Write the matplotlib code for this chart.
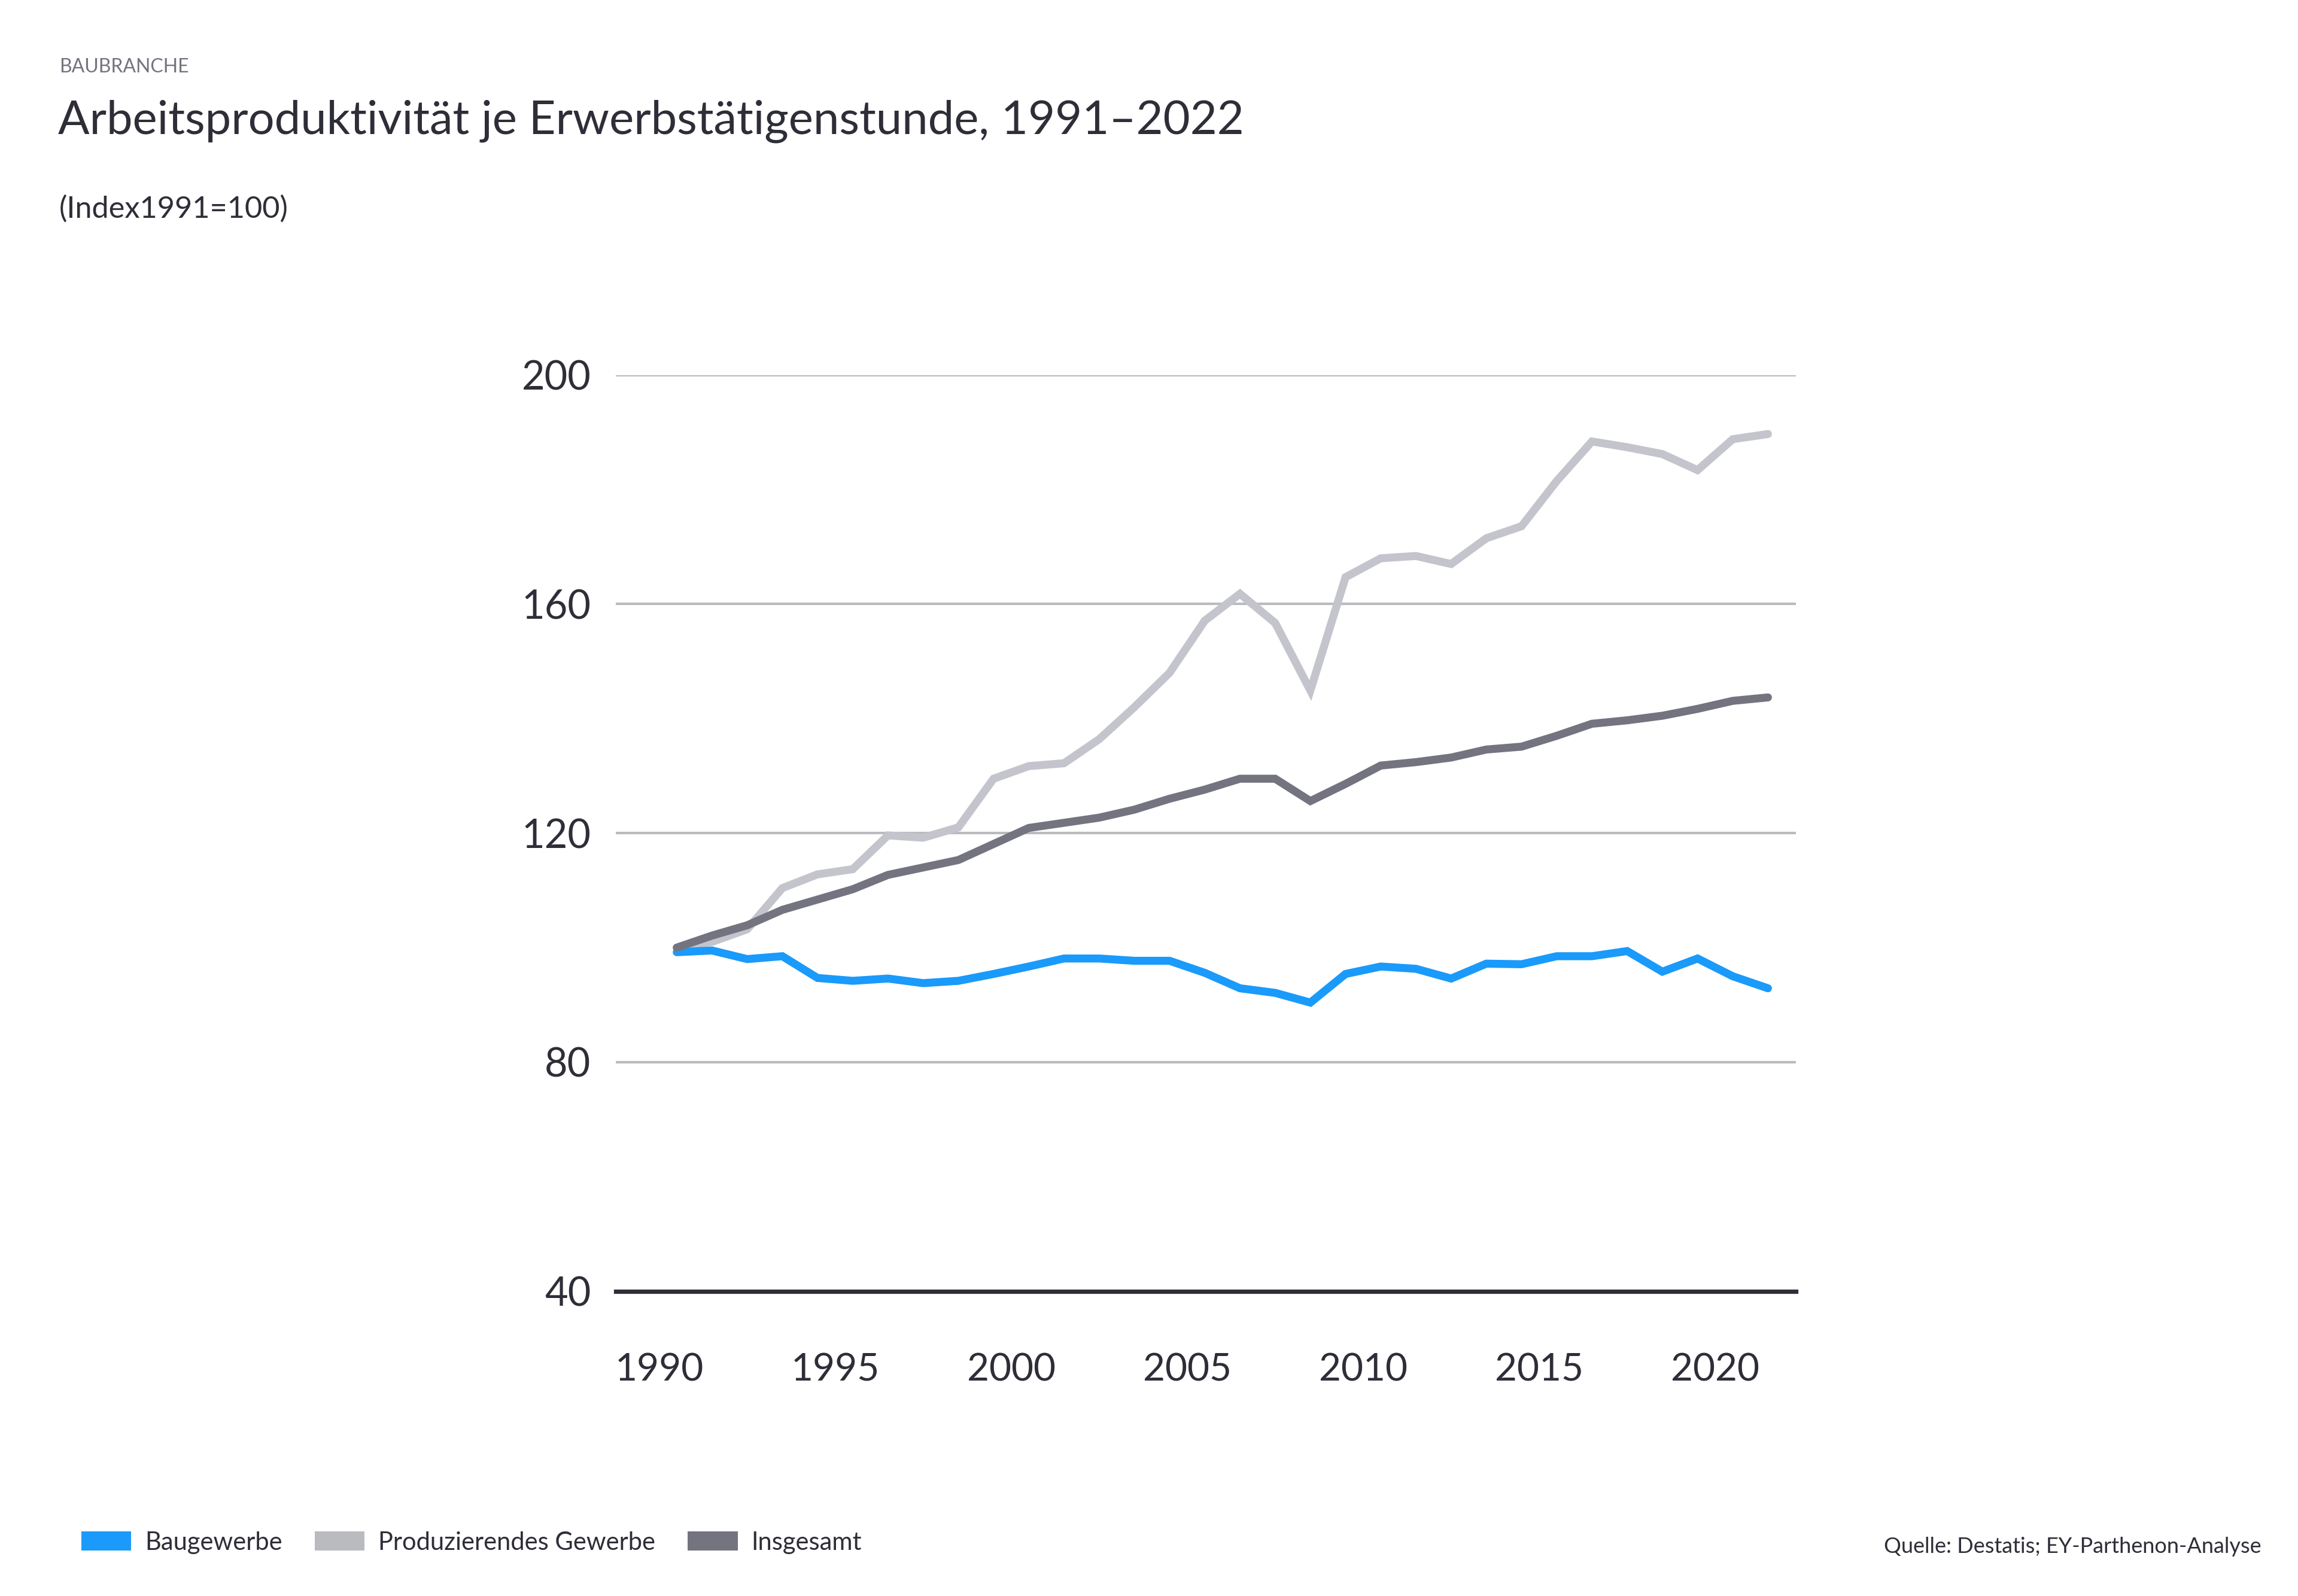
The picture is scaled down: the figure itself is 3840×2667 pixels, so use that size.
import matplotlib
matplotlib.use("Agg")
import matplotlib.pyplot as plt
from matplotlib.patches import Patch
import numpy as np

# Arbeitsproduktivitaet je Erwerbstaetigenstunde, Index 1991=100
years = list(range(1991, 2023))
baugewerbe = [99.2, 99.5, 98.0, 98.5, 94.7, 94.2, 94.6, 93.8, 94.2, 95.4,
              96.7, 98.1, 98.1, 97.7, 97.7, 95.6, 92.9, 92.1, 90.4, 95.4,
              96.7, 96.3, 94.6, 97.2, 97.1, 98.5, 98.5, 99.4, 95.8, 98.1,
              95.0, 92.9]
produzierendes = [100.0, 101.0, 103.2, 110.4, 112.8, 113.7, 119.6, 119.2, 121.0, 129.5,
                  131.7, 132.2, 136.4, 142.0, 148.0, 157.1, 161.8, 156.7, 144.9, 164.7,
                  168.0, 168.4, 167.0, 171.5, 173.6, 181.5, 188.4, 187.4, 186.2, 183.4,
                  188.8, 189.7]
insgesamt = [100.0, 102.1, 103.9, 106.6, 108.4, 110.2, 112.7, 114.0, 115.3, 118.1,
             120.9, 121.8, 122.7, 124.1, 126.0, 127.6, 129.5, 129.5, 125.6, 128.6,
             131.8, 132.4, 133.2, 134.6, 135.1, 137.0, 139.1, 139.7, 140.5, 141.7,
             143.1, 143.7]

series_labels = ["Baugewerbe", "Produzierendes Gewerbe", "Insgesamt"]
x_ticks = [1990, 1995, 2000, 2005, 2010, 2015, 2020]
y_ticks = [40, 80, 120, 160, 200]

# colours
blue = "#1A9AFA"
light = "#C4C4CD"
dark = "#747480"
swatch_light = "#B9BBBE"
text_col = "#2E2E38"
grid_col = "#B9BBBE"

plt.rcParams['font.family'] = ['Lato', 'DejaVu Sans']

fig = plt.figure(figsize=(19.2, 13.335), dpi=200)
ax = fig.add_axes([0.268, 0.191, 0.5136, 0.574])

lw = 4.8
ax.plot(years, produzierendes, color=light, lw=lw, solid_capstyle='round',
        solid_joinstyle='miter', zorder=3, clip_on=False)
ax.plot(years, baugewerbe, color=blue, lw=lw, solid_capstyle='round',
        solid_joinstyle='miter', zorder=4, clip_on=False)
ax.plot(years, insgesamt, color=dark, lw=lw, solid_capstyle='round',
        solid_joinstyle='miter', zorder=5, clip_on=False)

ax.set_xlim(1989.27, 2022.8)
ax.set_ylim(40, 200)

for v in y_ticks[1:]:
    ax.axhline(v, color=grid_col, lw=1.5, zorder=1)
ax.axhline(40, color=text_col, lw=2.6, zorder=2, clip_on=False)

for s in ax.spines.values():
    s.set_visible(False)

ax.set_yticks(y_ticks)
ax.set_yticklabels([str(v) for v in y_ticks])
# year labels sit a little right of the data points in the original
ax.set_xticks([t + 0.5 for t in x_ticks])
ax.set_xticklabels([str(t) for t in x_ticks])
ax.tick_params(axis='y', length=0, pad=15, labelsize=24, labelcolor=text_col)
ax.tick_params(axis='x', length=0, pad=37, labelsize=23, labelcolor=text_col)

# header texts
fig.text(0.0258, 0.958, "BAUBRANCHE", fontsize=11.5, color=dark, va='center', ha='left')
fig.text(0.0252, 0.924, "Arbeitsproduktivität je Erwerbstätigenstunde, 1991–2022",
         fontsize=28, color=text_col, va='center', ha='left')
fig.text(0.0258, 0.869, "(Index1991=100)", fontsize=18.2, color=text_col, va='center', ha='left')

# legend
handles = [Patch(facecolor=blue, edgecolor='none'),
           Patch(facecolor=swatch_light, edgecolor='none'),
           Patch(facecolor=dark, edgecolor='none')]
fig.legend(handles, series_labels, loc='center left', bbox_to_anchor=(0.0354, 0.0335),
           ncol=3, frameon=False, fontsize=15, handlelength=2.0, handleheight=0.8,
           handletextpad=0.55, columnspacing=1.3, borderpad=0, borderaxespad=0,
           labelcolor=text_col)

fig.text(0.9839, 0.031, "Quelle: Destatis; EY-Parthenon-Analyse", fontsize=13,
         color=text_col, ha='right', va='center')

fig.savefig("out.png", dpi=200)
